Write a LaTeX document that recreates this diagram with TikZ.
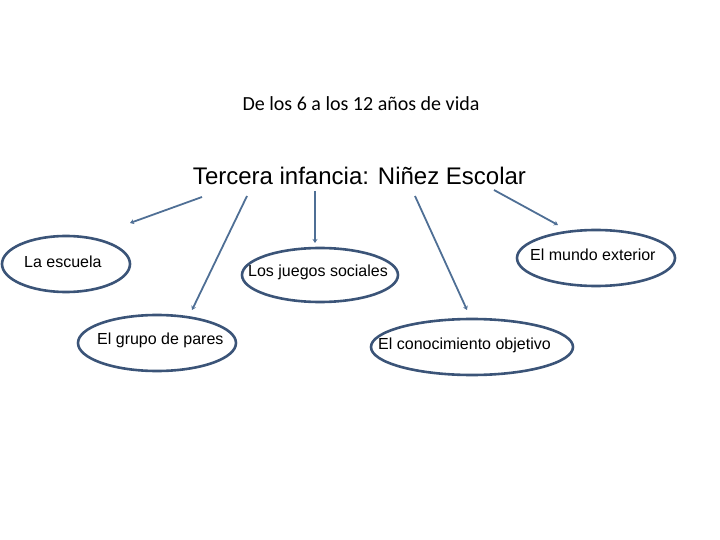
\documentclass[tikz,border=0pt]{standalone}
\usepackage{fontspec}
\setmainfont{Liberation Sans}
\newfontfamily\calib{Carlito}
\usetikzlibrary{arrows.meta,shapes.geometric}
\definecolor{ellcol}{HTML}{3B5478}
\definecolor{arrcol}{HTML}{4F6F95}
\tikzset{
  oval/.style={draw=ellcol, line width=2.6pt, fill=none},
  lbl/.style={font=\fontsize{16}{18}\selectfont, inner sep=0pt, anchor=west},
  conn/.style={draw=arrcol, line width=1.8pt, -{Stealth[length=4pt,width=5pt]}}
}
\begin{document}
\begin{tikzpicture}[x=1pt,y=-1pt]
\useasboundingbox (0,0) rectangle (720,540);
% ellipses
\draw[oval] (66,264) ellipse [x radius=64, y radius=28];
\draw[oval] (157,343) ellipse [x radius=79, y radius=28];
\draw[oval] (320,275) ellipse [x radius=78, y radius=27];
\draw[oval] (596,258) ellipse [x radius=79, y radius=28];
\draw[oval] (472,347) ellipse [x radius=101, y radius=28];
% labels
\node[lbl] (esc) at (24,262) {La escuela};
\node[lbl] (gru) at (97,340) {El grupo de pares};
\node[lbl] (jue) at (248,272) {Los juegos sociales};
\node[lbl] (mun) at (530,255) {El mundo exterior};
\node[lbl] (con) at (378,345) {El conocimiento objetivo};
% titles
\node[font=\calib\fontsize{20}{24}\selectfont, inner sep=0pt] (sub) at (361,104) {De los 6 a los 12 años de vida};
\node[font=\fontsize{24}{28}\selectfont, inner sep=0pt] (tit) at (359.5,176) {Tercera infancia: Niñez Escolar};
% connector anchors
\coordinate (a1s) at (202,197); \coordinate (a1e) at (130,223);
\coordinate (a2s) at (247,196); \coordinate (a2e) at (192,310);
\coordinate (a3s) at (315,191); \coordinate (a3e) at (315,243);
\coordinate (a4s) at (415,196); \coordinate (a4e) at (467,310);
\coordinate (a5s) at (494,190); \coordinate (a5e) at (558,225);
\draw[conn] (a1s) -- (a1e);
\draw[conn] (a2s) -- (a2e);
\draw[conn] (a3s) -- (a3e);
\draw[conn] (a4s) -- (a4e);
\draw[conn] (a5s) -- (a5e);
\end{tikzpicture}
\end{document}
